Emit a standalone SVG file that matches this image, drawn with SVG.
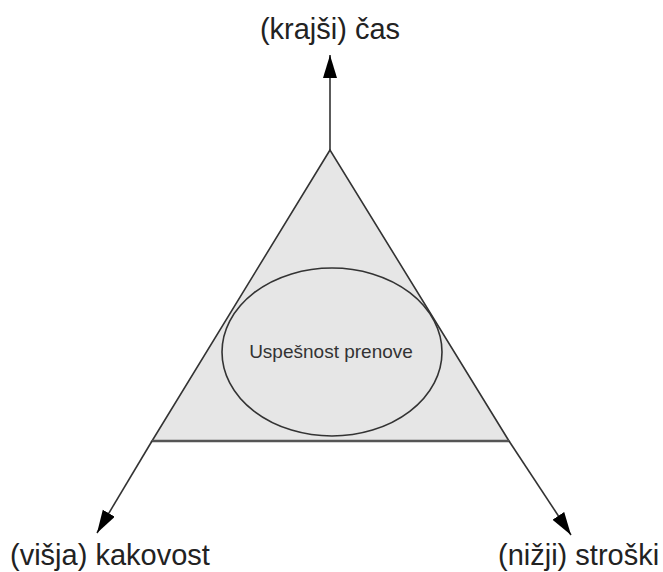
<svg xmlns="http://www.w3.org/2000/svg" width="663" height="572" viewBox="0 0 663 572">
  <style>
    .lbl { font-family: "Liberation Sans", Arial, sans-serif; font-size: 29px; fill: #222; }
    .inner { font-family: "Liberation Sans", Arial, sans-serif; font-size: 19px; fill: #333; }
    .edge { stroke: #333; stroke-width: 1.6; fill: none; }
  </style>
  <defs>
    <marker id="arrow" markerUnits="userSpaceOnUse" markerWidth="24" markerHeight="16" refX="23" refY="7" orient="auto">
      <path d="M0,0 L23,7 L0,14 Z" fill="#000"/>
    </marker>
  </defs>
  <rect width="663" height="572" fill="#fff"/>
  <g id="triangle">
    <polygon points="330,150 152,441 509,441" fill="#e6e6e6" stroke="#333" stroke-width="1.6"/>
    <line x1="152" y1="441" x2="509" y2="441" stroke="#555" stroke-width="2.4"/>
  </g>
  <g id="uspesnost">
    <ellipse cx="332" cy="352" rx="110" ry="84" fill="#e6e6e6" stroke="#333" stroke-width="1.6"/>
    <text class="inner" x="331" y="358" text-anchor="middle">Uspešnost prenove</text>
  </g>
  <g id="connectors">
    <line class="edge" x1="330" y1="150" x2="330" y2="55" marker-end="url(#arrow)"/>
    <line class="edge" x1="152" y1="441" x2="97" y2="533" marker-end="url(#arrow)"/>
    <line class="edge" x1="509" y1="441" x2="571" y2="535" marker-end="url(#arrow)"/>
  </g>
  <g id="cas">
    <text class="lbl" x="330" y="39" text-anchor="middle">(krajši) čas</text>
  </g>
  <g id="kakovost">
    <text class="lbl" x="10" y="565">(višja) kakovost</text>
  </g>
  <g id="stroski">
    <text class="lbl" x="498" y="565">(nižji) stroški</text>
  </g>
</svg>
